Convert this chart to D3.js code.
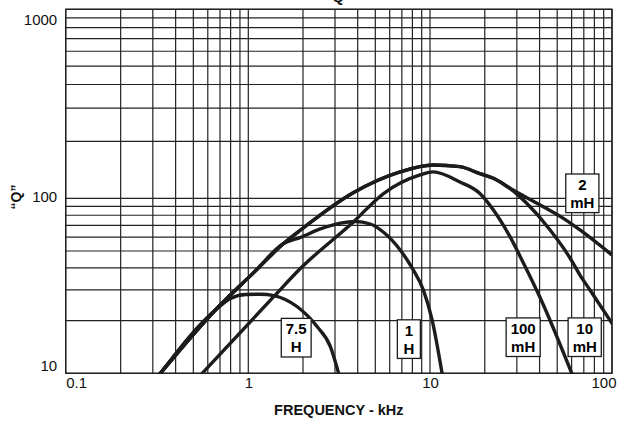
<!DOCTYPE html>
<html>
<head>
<meta charset="utf-8">
<script src="https://cdn.jsdelivr.net/npm/d3@7"></script>
<style>
  body { margin: 0; background: #fff; }
  svg { display: block; font-family: "Liberation Sans", Arial, sans-serif; }
</style>
</head>
<body>
<div id="chart"></div>
<script>
// tick labels
var xTicks = [0.1, 1, 10, 100];
var yTicks = [10, 100, 1000];

// curves: [frequency kHz, Q]
var q7_5H = [[0.33,10],[0.66,23.0],[0.80,26.8],[0.97,28.2],[1.17,28.3],[1.38,27.8],[1.86,24.0],[2.39,18.5],[2.83,14.2],[3.14,10]];
var q1H = [[0.33,10],[0.66,23.0],[1.07,37.6],[1.57,55.3],[1.94,59.8],[2.49,66.8],[3.21,72.2],[3.88,73.7],[4.69,71.3],[5.53,64.2],[6.85,50.7],[7.97,40],[9.2,29.9],[10.27,20.2],[11.65,10]];
var q100mH = [[0.559,10],[1.38,27.4],[1.94,39.8],[3.80,73.5],[5.55,106],[8.83,133],[10.4,138],[14.6,122],[18.8,106],[22.3,85.7],[27.5,60.4],[32.6,42.7],[40.3,27.0],[60.1,10]];
var q10mH = [[0.33,10],[0.66,23.0],[1.07,37.6],[1.57,55.3],[1.94,65.9],[3.78,107],[6.85,138],[10.4,150],[14.6,147],[18.8,135],[22.3,127.6],[27.5,113],[34.0,93.6],[45.7,65.9],[58.8,45.6],[66.7,36.4],[75.7,29.9],[100,19.3]];
var q2mH = [[0.33,10],[0.66,23.0],[1.07,37.6],[1.57,55.3],[1.94,65.9],[3.78,107],[6.85,138],[10.4,150],[14.6,147],[18.8,135],[22.3,127.6],[27.5,113],[41.9,89.5],[53.8,77.1],[66.7,65.9],[100,47.4]];

// curve labels: two text lines, anchored at [frequency, Q]
var labelText = [["7.5","H"],["1","H"],["100","mH"],["10","mH"],["2","mH"]];
var labelAt = [[1.835,16.0],[7.65,15.7],[32.5,16.1],[70.8,16.1],[68.7,106.4]];

var width = 618, height = 423;
var margin = {top: 9.3, right: 6, bottom: 49.7, left: 65.7};
var innerRight = width - margin.right,
    innerBottom = height - margin.bottom;

var svg = d3.select("#chart")
    .append("svg")
    .attr("width", width)
    .attr("height", height)
    .attr("viewBox", [0, 0, width, height]);

// log scales, one piece per decade (the printed grid is not quite even)
var x = d3.scaleLog()
    .domain([0.1, 1, 10, 100])
    .range([margin.left, 248.3, 430, innerRight]);

var y = d3.scaleLog()
    .domain([10, 100, 1000])
    .range([innerBottom, 198.3, margin.top]);

// grid
var xGrid = [], yGrid = [];
[0.1, 1, 10].forEach(function (d) {
    for (var k = 1; k < 10; k++) xGrid.push(d * k);
});
xGrid.push(100);
[10, 100].forEach(function (d) {
    for (var k = 1; k < 10; k++) yGrid.push(d * k);
});
yGrid.push(1000);

var grid = svg.append("g")
    .attr("stroke", "#222")
    .attr("stroke-width", 1.2);

grid.selectAll("line.v")
    .data(xGrid)
    .join("line")
    .attr("class", "v")
    .attr("x1", d => x(d)).attr("x2", d => x(d))
    .attr("y1", margin.top).attr("y2", innerBottom);

grid.selectAll("line.h")
    .data(yGrid)
    .join("line")
    .attr("class", "h")
    .attr("x1", margin.left).attr("x2", innerRight)
    .attr("y1", d => y(d)).attr("y2", d => y(d));

svg.append("rect")
    .attr("x", margin.left)
    .attr("y", margin.top)
    .attr("width", innerRight - margin.left)
    .attr("height", innerBottom - margin.top)
    .attr("fill", "none")
    .attr("stroke", "#222")
    .attr("stroke-width", 1.4);

// curves
svg.append("clipPath").attr("id", "plot")
    .append("rect")
    .attr("x", margin.left)
    .attr("y", margin.top)
    .attr("width", innerRight - margin.left)
    .attr("height", innerBottom - margin.top);

var line = d3.line()
    .x(d => x(d[0]))
    .y(d => y(d[1]))
    .curve(d3.curveMonotoneX);

svg.append("g")
    .attr("clip-path", "url(#plot)")
    .attr("fill", "none")
    .attr("stroke", "#1c1c1c")
    .attr("stroke-width", 3.4)
    .attr("stroke-linecap", "round")
    .selectAll("path")
    .data([q7_5H, q1H, q100mH, q10mH, q2mH])
    .join("path")
    .attr("d", line);

// curve labels
var lab = svg.append("g")
    .selectAll("g")
    .data(labelText)
    .join("g")
    .attr("transform", (d, i) => `translate(${x(labelAt[i][0])},${y(labelAt[i][1])})`);

lab.append("text")
    .attr("class", "l1")
    .attr("text-anchor", "middle")
    .attr("y", -8.5)
    .attr("dy", "0.36em")
    .attr("font-size", 15)
    .attr("font-weight", "bold")
    .text(d => d[0]);

lab.append("text")
    .attr("class", "l2")
    .attr("text-anchor", "middle")
    .attr("y", 9.2)
    .attr("dy", "0.36em")
    .attr("font-size", 15)
    .attr("font-weight", "bold")
    .text(d => d[1]);

lab.each(function () {
    var g = d3.select(this);
    var w = 0;
    g.selectAll("text").each(function () {
        w = Math.max(w, this.getComputedTextLength());
    });
    w = Math.max(w + 9, 23);
    g.insert("rect", "text")
        .attr("x", -w / 2)
        .attr("y", -19.2)
        .attr("width", w)
        .attr("height", 38.6)
        .attr("fill", "#fff")
        .attr("stroke", "#1c1c1c")
        .attr("stroke-width", 1.3);
});

// x axis
function xAxis(g) {
    g.attr("transform", `translate(0,${innerBottom})`)
        .call(d3.axisBottom(x).tickValues(xTicks).tickSize(0).tickPadding(4).tickFormat(d => String(d)))
        .attr("font-size", 15)
        .attr("font-family", null)
        .call(g => g.select(".domain").remove());
    g.selectAll(".tick text")
        .attr("fill", "#111")
        .attr("text-anchor", (d, i) => i === 0 ? "start" : i === xTicks.length - 1 ? "end" : "middle")
        .attr("dx", (d, i) => i === xTicks.length - 1 ? 4 : 0);
}

// y axis
function yAxis(g) {
    g.attr("transform", `translate(${margin.left},0)`)
        .call(d3.axisLeft(y).tickValues(yTicks).tickSize(0).tickPadding(8.5).tickFormat(d => String(d)))
        .attr("font-size", 15)
        .attr("font-family", null)
        .call(g => g.select(".domain").remove());
    g.selectAll(".tick text")
        .attr("fill", "#111")
        .attr("y", d => d === 1000 ? 10.7 : d === 10 ? -7.3 : -1.6);
}

svg.append("g").call(xAxis);
svg.append("g").call(yAxis);

// titles
svg.append("text")
    .attr("x", (margin.left + innerRight) / 2)
    .attr("y", 415)
    .attr("text-anchor", "middle")
    .attr("font-size", 14.5)
    .attr("font-weight", "bold")
    .attr("fill", "#111")
    .text("FREQUENCY - kHz");

svg.append("text")
    .attr("transform", "translate(21,197) rotate(-90)")
    .attr("text-anchor", "middle")
    .attr("font-size", 14)
    .attr("font-weight", "bold")
    .attr("fill", "#111")
    .text("\u201CQ\u201D");

// chart title, cut by the top edge as in the source
svg.append("text")
    .attr("x", 338)
    .attr("y", 2)
    .attr("text-anchor", "middle")
    .attr("font-size", 15)
    .attr("font-weight", "bold")
    .attr("fill", "#111")
    .text("\u201CQ\u201D");
</script>
</body>
</html>
